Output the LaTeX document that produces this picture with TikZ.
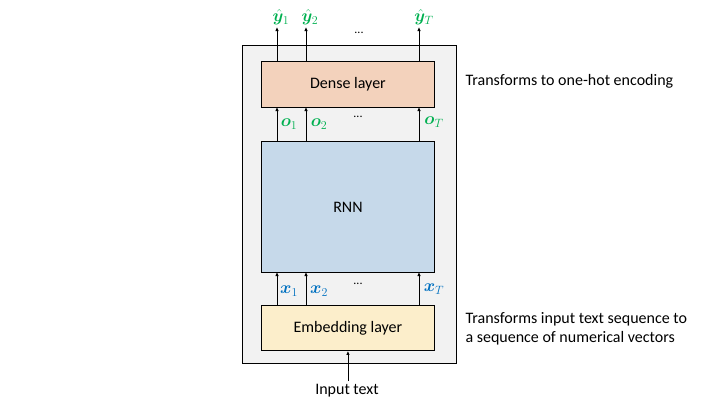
\documentclass[tikz,border=0pt]{standalone}
\usepackage{fontspec}
\setmainfont{Carlito}
\usepackage{amsmath,bm}
\usetikzlibrary{arrows.meta}
\definecolor{outerfill}{HTML}{F2F2F2}
\definecolor{densefill}{HTML}{F3D2BC}
\definecolor{rnnfill}{HTML}{C6D9EA}
\definecolor{embfill}{HTML}{FCEECB}
\definecolor{lblgreen}{HTML}{00B050}
\definecolor{lblblue}{HTML}{0070C0}
\begin{document}
\begin{tikzpicture}[x=1pt,y=-1pt,
  layer/.style={draw=black,line width=0.9pt,minimum width=173pt,anchor=north west,inner sep=0pt},
  txt/.style={font=\fontsize{16}{19}\selectfont},
  arr/.style={-{Latex[length=4pt,width=3.5pt]},line width=0.8pt},
  glbl/.style={text=lblgreen,font=\fontsize{17}{19}\selectfont,inner sep=0pt},
  blbl/.style={text=lblblue,font=\fontsize{17}{19}\selectfont,inner sep=0pt},
  dots/.style={font=\fontsize{12}{14}\selectfont},
  note/.style={anchor=west,align=left,font=\fontsize{16}{19}\selectfont}]
\useasboundingbox (0,0) rectangle (720,405);
\node[draw=black,line width=0.9pt,fill=outerfill,minimum width=214pt,minimum height=318pt,anchor=north west,inner sep=0pt] (outer) at (242,45) {};
\node[layer,fill=densefill,minimum height=46pt] (dense) at (261,61) {};
\node[txt] (denselbl) at (dense.center) {Dense layer};
\node[layer,fill=rnnfill,minimum height=131pt] (rnn) at (261,141) {};
\node[txt] (rnnlbl) at (rnn.center) {RNN};
\node[layer,fill=embfill,minimum height=45pt] (emb) at (261,305) {};
\node[txt] (emblbl) at (emb.center) {Embedding layer};
% arrow ends
\coordinate (y1) at (277,27);
\coordinate (y2) at (306,27);
\coordinate (yT) at (419,27);
\draw[arr] (277,61) -- (y1);
\draw[arr] (306,61) -- (y2);
\draw[arr] (419,61) -- (yT);
\draw[arr] (277,141) -- (277,107);
\draw[arr] (306,141) -- (306,107);
\draw[arr] (419,141) -- (419,107);
\draw[arr] (277,305) -- (277,272);
\draw[arr] (306,305) -- (306,272);
\draw[arr] (419,305) -- (419,272);
\node[txt] (inp) at (347,391) {Input text};
\draw[arr] (emb.south |- inp.north) -- (emb.south);
% labels
\node[glbl,anchor=south] (ly1) at (281,25) {$\hat{\bm{y}}_1$};
\node[glbl,anchor=south] (ly2) at (310,25) {$\hat{\bm{y}}_2$};
\node[glbl,anchor=south] (lyT) at (424,25) {$\hat{\bm{y}}_T$};
\node[dots] (d1) at (359,33) {...};
\node[glbl] (lo1) at (289,124) {$\bm{o}_1$};
\node[glbl] (lo2) at (319,124) {$\bm{o}_2$};
\node[glbl] (loT) at (434,122) {$\bm{o}_T$};
\node[dots] (d2) at (358,117) {...};
\node[blbl] (lx1) at (289,291) {$\bm{x}_1$};
\node[blbl] (lx2) at (319,291) {$\bm{x}_2$};
\node[blbl] (lxT) at (434,289) {$\bm{x}_T$};
\node[dots] (d3) at (358,284) {...};
\node[note] (n1) at (462,81) {Transforms to one-hot encoding};
\node[note] (n2) at (462,329) {Transforms input text sequence to\\a sequence of numerical vectors};
\end{tikzpicture}
\end{document}
